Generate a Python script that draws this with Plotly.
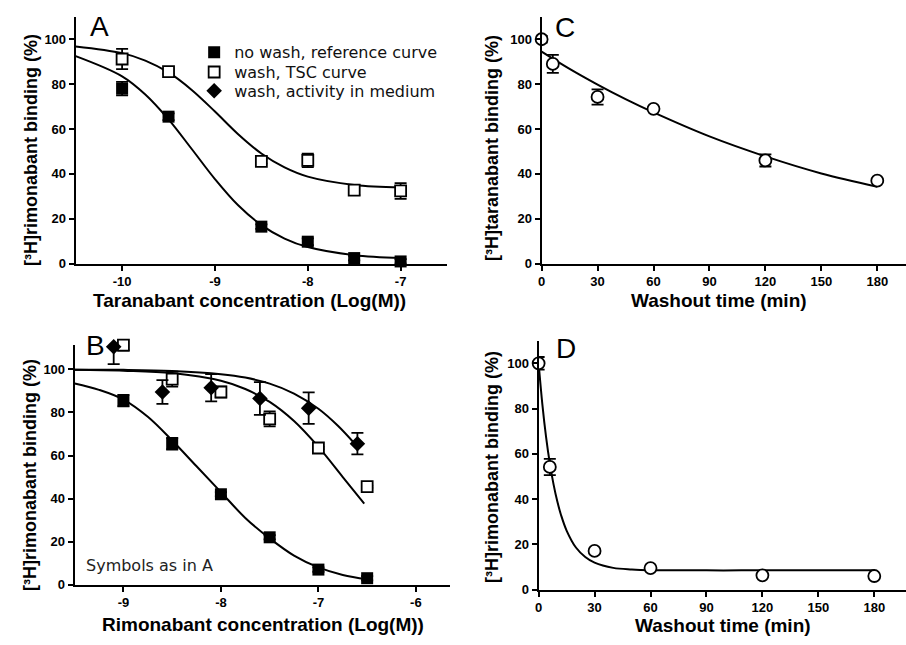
import plotly.graph_objects as go

W, H = 906, 645

# ---------------- Panel A data ----------------
a_x = [-10, -9.5, -8.5, -8, -7.5, -7]
a_nowash_y = [78, 65.5, 16.5, 9.8, 2.5, 1]
a_nowash_err = [3, 1.5, 1, 1.5, 1, 1]
a_wash_y = [91.2, 85.6, 45.6, 46, 32.8, 32.4]
a_wash_err = [4.5, 1, 1, 3, 2.2, 3.5]
# fitted curves
a_curve_x = [-10.5, -10, -9.75, -9.5, -9.25, -9, -8.75, -8.5, -8.25, -8, -7.5, -7]
a_curve_nowash = [92.5, 83.5, 75.4, 64.3, 51.1, 37.7, 26, 17.2, 11.2, 7.4, 3.8, 2.6]
a_curve_wash = [96.8, 93.8, 90.5, 85.2, 77.4, 67.8, 57.7, 49.1, 42.9, 38.8, 35.1, 34]

# ---------------- Panel B data ----------------
b_x = [-9, -8.5, -8, -7.5, -7, -6.5]
b_nowash_y = [85.5, 65.5, 42, 22, 7, 3]
b_nowash_err = [2.7, 2.7, 1, 1, 1, 1]
b_wash_y = [111.3, 95.5, 89.5, 77, 63.5, 45.5]
b_wash_err = [2.5, 3.5, 2.5, 3.5, 0.5, 0.5]
b_med_x = [-9.1, -8.6, -8.1, -7.6, -7.1, -6.6]
b_med_y = [110.5, 89.5, 91.5, 86.5, 82, 65.5]
b_med_err = [8, 5.5, 6.3, 7.6, 7.3, 5]
b_curve1_x = [-9.5, -9.25, -9, -8.75, -8.5, -8.25, -8, -7.75, -7.5, -7.25, -7, -6.75, -6.5]
b_curve1_y = [93.5, 90.5, 86, 78, 67, 55, 43, 31, 21.5, 13.5, 8, 4.5, 2.5]
b_curve2_x = [-9.5, -9, -8.5, -8, -7.75, -7.5, -7.25, -7, -6.75, -6.53]
b_curve2_y = [99.8, 99.4, 98.3, 94.7, 90.9, 84.9, 76, 64, 50, 37.6]
b_curve3_x = [-9.5, -9, -8.5, -8, -7.75, -7.5, -7.25, -7, -6.8, -6.63]
b_curve3_y = [99.9, 99.8, 99.3, 97.8, 96.2, 93.4, 88.8, 81.7, 73.8, 65.6]

# ---------------- Panel C data ----------------
c_x = [0, 6, 30, 60, 120, 180]
c_y = [100, 89, 74.3, 69, 46, 37]
c_err = [1.5, 4, 3.4, 0.5, 2.7, 0.5]
c_curve_x = [0, 15, 30, 45, 60, 90, 120, 150, 180]
c_curve_y = [94.5, 86.8, 79.8, 73.3, 67.4, 56.7, 47.8, 40.2, 34.3]

# ---------------- Panel D data ----------------
d_x = [0, 6, 30, 60, 120, 180]
d_y = [100, 54.2, 17.1, 9.5, 6.3, 6]
d_err = [2.8, 3.6, 0.5, 0.5, 0.5, 0.5]
d_curve_x = [0, 2, 4, 6, 8, 10, 12, 15, 20, 25, 30, 40, 50, 60, 90, 120, 150, 180]
d_curve_y = [100, 81.9, 67.4, 55.8, 46.5, 39.0, 33.0, 26.1, 18.6, 14.4, 11.9, 9.6, 8.9, 8.6, 8.5, 8.5, 8.5, 8.5]

# tick labels
a_ticks = [-10, -9, -8, -7]
b_ticks = [-9, -8, -7, -6]
cd_ticks = [0, 30, 60, 90, 120, 150, 180]
y_ticks = [0, 20, 40, 60, 80, 100]

BLACK = "black"
LW = 2


def err(vals):
    return dict(type="data", array=vals, visible=True, color=BLACK,
                thickness=1.8, width=6)


fig = go.Figure()

# Panel A
fig.add_trace(go.Scatter(x=a_curve_x, y=a_curve_nowash, mode="lines", line=dict(color=BLACK, width=LW, shape="spline"),
                         showlegend=False, xaxis="x", yaxis="y"))
fig.add_trace(go.Scatter(x=a_curve_x, y=a_curve_wash, mode="lines", line=dict(color=BLACK, width=LW, shape="spline"),
                         showlegend=False, xaxis="x", yaxis="y"))
fig.add_trace(go.Scatter(x=a_x, y=a_nowash_y, error_y=err(a_nowash_err), mode="markers",
                         marker=dict(symbol="square", size=12, color=BLACK),
                         name="no wash, reference curve", legend="legend",
                         cliponaxis=False, xaxis="x", yaxis="y"))
fig.add_trace(go.Scatter(x=a_x, y=a_wash_y, error_y=err(a_wash_err), mode="markers",
                         marker=dict(symbol="square", size=11, color="white", line=dict(color=BLACK, width=1.8)),
                         name="wash, TSC curve", legend="legend2",
                         cliponaxis=False, xaxis="x", yaxis="y"))

# Panel B
for cx, cy in [(b_curve1_x, b_curve1_y), (b_curve2_x, b_curve2_y), (b_curve3_x, b_curve3_y)]:
    fig.add_trace(go.Scatter(x=cx, y=cy, mode="lines", line=dict(color=BLACK, width=LW, shape="spline"),
                             showlegend=False, xaxis="x2", yaxis="y2"))
fig.add_trace(go.Scatter(x=b_x, y=b_nowash_y, error_y=err(b_nowash_err), mode="markers",
                         marker=dict(symbol="square", size=12, color=BLACK),
                         showlegend=False, cliponaxis=False, xaxis="x2", yaxis="y2"))
fig.add_trace(go.Scatter(x=b_x, y=b_wash_y, error_y=err(b_wash_err), mode="markers",
                         marker=dict(symbol="square", size=11, color="white", line=dict(color=BLACK, width=1.8)),
                         showlegend=False, cliponaxis=False, xaxis="x2", yaxis="y2"))
fig.add_trace(go.Scatter(x=b_med_x, y=b_med_y, error_y=err(b_med_err), mode="markers",
                         marker=dict(symbol="diamond", size=12, color=BLACK),
                         name="wash, activity in medium", legend="legend3",
                         cliponaxis=False, xaxis="x2", yaxis="y2"))

# Panel C
fig.add_trace(go.Scatter(x=c_curve_x, y=c_curve_y, mode="lines", line=dict(color=BLACK, width=LW, shape="spline"),
                         showlegend=False, xaxis="x3", yaxis="y3"))
fig.add_trace(go.Scatter(x=c_x, y=c_y, error_y=err(c_err), mode="markers",
                         marker=dict(symbol="circle", size=12, color="white", line=dict(color=BLACK, width=1.8)),
                         showlegend=False, cliponaxis=False, xaxis="x3", yaxis="y3"))

# Panel D
fig.add_trace(go.Scatter(x=d_curve_x, y=d_curve_y, mode="lines", line=dict(color=BLACK, width=LW, shape="spline"),
                         showlegend=False, xaxis="x4", yaxis="y4"))
fig.add_trace(go.Scatter(x=d_x, y=d_y, error_y=err(d_err), mode="markers",
                         marker=dict(symbol="circle", size=12, color="white", line=dict(color=BLACK, width=1.8)),
                         showlegend=False, cliponaxis=False, xaxis="x4", yaxis="y4"))

TICKFONT = dict(family="Liberation Sans, Arial, sans-serif", size=13, color=BLACK, weight="bold")


def ax(domain, rng, tickvals, anchor):
    return dict(domain=domain, range=rng, tickvals=tickvals, ticktext=[str(t) for t in tickvals],
                showline=True, linecolor=BLACK, linewidth=LW, ticks="outside", ticklen=5,
                tickwidth=2, tickcolor=BLACK, showgrid=False, zeroline=False,
                tickfont=TICKFONT, anchor=anchor, fixedrange=True)


def px(xp):
    return xp / W


def py(yp):
    return 1 - yp / H


LEGFONT = dict(family="DejaVu Sans, Verdana, sans-serif", size=16, color="#111")


def leg(yc):
    return dict(x=px(191), y=py(yc), xanchor="left", yanchor="middle", bgcolor="rgba(0,0,0,0)",
                font=LEGFONT, itemsizing="trace", borderwidth=0)


fig.update_layout(
    width=W, height=H,
    margin=dict(l=0, r=0, t=0, b=0),
    paper_bgcolor="white", plot_bgcolor="white",
    xaxis=ax([px(72), px(445)], [-10.5, -6.5], a_ticks, "y"),
    yaxis=ax([py(267), py(17)], [0, 110], y_ticks, "x"),
    xaxis2=ax([px(71), px(448)], [-9.5, -5.65], b_ticks, "y2"),
    yaxis2=ax([py(592), py(349)], [0, 111.5], y_ticks, "x2"),
    xaxis3=ax([px(540), 1.0], [0, 195.4], cd_ticks, "y3"),
    yaxis3=ax([py(267), py(17)], [0, 110], y_ticks, "x3"),
    xaxis4=ax([px(537), 1.0], [0, 197], cd_ticks, "y4"),
    yaxis4=ax([py(597), py(345)], [0, 110], y_ticks, "x4"),
    showlegend=True,
    legend=leg(53),
    legend2=leg(73),
    legend3=leg(92),
)

TITLEFONT_X = dict(family="Liberation Sans, Arial, sans-serif", size=19, color=BLACK, weight="bold")
TITLEFONT_Y = dict(family="Liberation Sans, Arial, sans-serif", size=18, color=BLACK, weight="bold")
LETTERFONT = dict(family="Liberation Sans, Arial, sans-serif", size=28, color=BLACK)

annotations = [
    # panel letters
    dict(text="A", x=px(96), y=py(27)),
    dict(text="B", x=px(92), y=py(350)),
    dict(text="C", x=px(563), y=py(28)),
    dict(text="D", x=px(564), y=py(353)),
]
for a in annotations:
    a.update(xref="paper", yref="paper", showarrow=False, font=LETTERFONT, xanchor="center", yanchor="middle")

xtitles = [
    dict(text="Taranabant concentration (Log(M))", x=px(247), y=py(304)),
    dict(text="Rimonabant concentration (Log(M))", x=px(260), y=py(632)),
    dict(text="Washout time (min)", x=px(718), y=py(304)),
    dict(text="Washout time (min)", x=px(722), y=py(633)),
]
for t in xtitles:
    t.update(xref="paper", yref="paper", showarrow=False, font=TITLEFONT_X, xanchor="center", yanchor="middle")

ytitles = [
    dict(text="[³H]rimonabant binding (%)", x=px(27), y=py(152), textangle=-90),
    dict(text="[³H]rimonabant binding (%)", x=px(26), y=py(481), textangle=-90),
    dict(text="[³H]taranabant binding (%)", x=px(490), y=py(150), textangle=-90),
    dict(text="[³H]rimonabant binding (%)", x=px(490), y=py(473), textangle=-90),
]
for t in ytitles:
    t.update(xref="paper", yref="paper", showarrow=False, font=TITLEFONT_Y, xanchor="center", yanchor="middle")

note = dict(text="Symbols as in A", x=px(80), y=py(573), xref="paper", yref="paper", showarrow=False,
            xanchor="left", yanchor="middle",
            font=dict(family="DejaVu Sans, Verdana, sans-serif", size=16, color="#222"))

fig.update_layout(annotations=annotations + xtitles + ytitles + [note])

fig.write_html("out.html", config={"displayModeBar": False},
               post_script="document.body.style.margin='0';document.body.style.overflow='hidden';")
